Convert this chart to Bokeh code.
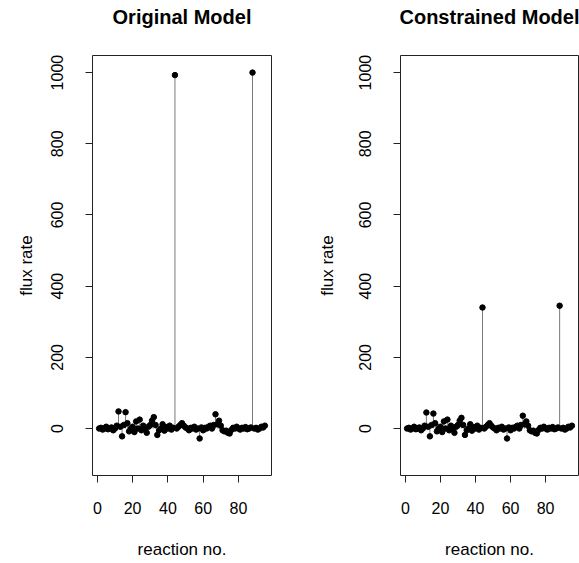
from bokeh.plotting import figure
from bokeh.layouts import row
from bokeh.models import FixedTicker, Range1d, ColumnDataSource, Title
from bokeh.embed import file_html
from bokeh.resources import INLINE

reaction = list(range(1, 96))

original_flux = [
    0, 2, -3, 0, 5, -2, 0, 3, -5, 0,
    8, 48, 5, -22, 10, 46, 15, -8, 0, 5,
    -10, 20, 0, 25, -5, 8, 0, -12, 5, 10,
    22, 32, 10, -18, -5, 0, 12, -6, 4, 0,
    8, -3, 2, 993, 0, 5, 10, 15, 8, 3,
    0, -5, 2, 0, 5, -3, 0, -28, 3, -5,
    2, 0, 5, 8, 0, 10, 40, 12, 22, 8,
    -5, -8, -6, -12, -14, -4, 2, 0, 5, 0,
    -3, 2, 0, 4, -2, 0, 3, 1000, 0, 2,
    -3, 0, 5, 3, 8,
]

constrained_flux = [
    0, 2, -3, 0, 5, -2, 0, 3, -5, 0,
    8, 45, 5, -22, 10, 42, 15, -8, 0, 5,
    -10, 20, 0, 25, -5, 8, 0, -12, 5, 10,
    22, 30, 10, -18, -5, 0, 12, -6, 4, 0,
    8, -3, 2, 340, 0, 5, 10, 15, 8, 3,
    0, -5, 2, 0, 5, -3, 0, -28, 3, -5,
    2, 0, 5, 8, 0, 10, 36, 12, 20, 8,
    -5, -8, -6, -12, -14, -4, 2, 0, 5, 0,
    -3, 2, 0, 4, -2, 0, 3, 345, 0, 2,
    -3, 0, 5, 3, 8,
]

titles = ["Original Model", "Constrained Model"]
x_ticks = [0, 20, 40, 60, 80]
y_ticks = [0, 200, 400, 600, 800, 1000]

FONT = "Liberation Sans"


def make_panel(title, vals, width, left, right, ylab_standoff):
    src = ColumnDataSource(dict(x=reaction, y=vals, zero=[0] * len(vals)))
    p = figure(width=width, height=563, output_backend="svg", toolbar_location=None,
               x_range=Range1d(-2.76, 98.76), y_range=Range1d(-132, 1048),
               min_border_left=left, min_border_right=right,
               min_border_top=55, min_border_bottom=88)
    # spacer between the title and the plot box
    p.add_layout(Title(text=" ", text_font_size="10px", standoff=12), "above")
    p.title.text = title
    p.title.align = "center"
    p.title.text_font = FONT
    p.title.text_font_size = "20px"
    p.title.text_font_style = "bold"
    p.title.text_color = "black"
    p.title.standoff = 6
    p.grid.visible = False
    p.outline_line_color = "#222222"
    p.outline_line_width = 1
    p.background_fill_color = "white"
    p.border_fill_color = "white"

    p.segment(x0="x", y0="zero", x1="x", y1="y", source=src,
              line_color="#7a7a7a", line_width=1)
    p.scatter(x="x", y="y", source=src, size=5.5, fill_color="black",
              line_color="black", marker="circle")

    for ax in (p.xaxis[0], p.yaxis[0]):
        ax.axis_line_color = None
        ax.major_tick_line_color = "#222222"
        ax.major_tick_in = 0
        ax.major_tick_out = 7
        ax.minor_tick_line_color = None
        ax.major_label_text_font = FONT
        ax.major_label_text_font_size = "16px"
        ax.major_label_text_color = "black"
        ax.axis_label_text_font = FONT
        ax.axis_label_text_font_size = "17px"
        ax.axis_label_text_font_style = "normal"
        ax.axis_label_text_color = "black"

    p.xaxis.ticker = FixedTicker(ticks=x_ticks)
    p.yaxis.ticker = FixedTicker(ticks=y_ticks)
    p.xaxis.axis_label = "reaction no."
    p.yaxis.axis_label = "flux rate"
    p.xaxis.major_label_standoff = 19
    p.xaxis.axis_label_standoff = 23
    p.yaxis.major_label_orientation = "vertical"
    p.yaxis.major_label_standoff = 22
    p.yaxis.axis_label_standoff = ylab_standoff
    return p


p1 = make_panel(titles[0], original_flux, 300, 92, 29, 13)
p2 = make_panel(titles[1], constrained_flux, 279, 100, 1, 20)
layout = row(p1, p2, spacing=0)

open("out.html", "w").write(file_html(layout, INLINE))
